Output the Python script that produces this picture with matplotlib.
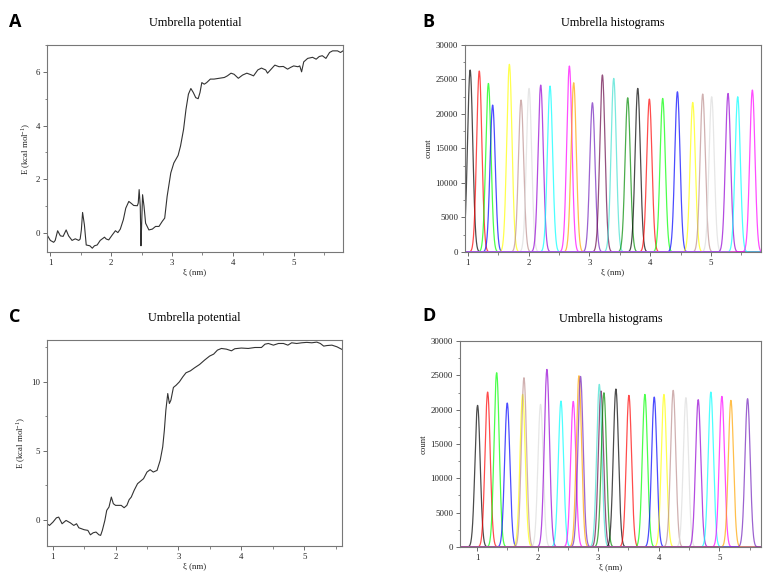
import numpy as np
import matplotlib
matplotlib.use("Agg")
import matplotlib.pyplot as plt
from matplotlib.ticker import MultipleLocator

plt.rcParams['font.family'] = ['Liberation Serif', 'DejaVu Serif']
plt.rcParams['mathtext.fontset'] = 'custom'
plt.rcParams['mathtext.rm'] = 'Liberation Serif'

# --- DATA ---

# Panel A: umbrella potential (PMF)
xi_a = [0.945, 1.0, 1.055, 1.08, 1.12, 1.165, 1.21, 1.26, 1.30, 1.357, 1.41, 1.467, 1.49,
        1.51, 1.53, 1.56, 1.59, 1.65, 1.69, 1.725, 1.77, 1.82, 1.89, 1.92, 1.96, 2.02,
        2.07, 2.11, 2.15, 2.2, 2.24, 2.29, 2.335, 2.37, 2.43, 2.445, 2.46, 2.478, 2.49,
        2.5, 2.516, 2.54, 2.566, 2.62, 2.676, 2.73, 2.786, 2.84, 2.88, 2.92, 2.98, 3.03,
        3.1, 3.14, 3.19, 3.23, 3.27, 3.31, 3.35, 3.39, 3.43, 3.46, 3.49, 3.53, 3.57, 3.63,
        3.69, 3.775, 3.86, 3.91, 3.97, 4.02, 4.09, 4.16, 4.23, 4.30, 4.34, 4.41, 4.47,
        4.54, 4.57, 4.63, 4.69, 4.76, 4.83, 4.9, 4.945, 5.0, 5.07, 5.10, 5.13, 5.165,
        5.23, 5.31, 5.37, 5.42, 5.47, 5.53, 5.59, 5.64, 5.72, 5.77, 5.81]
e_a = [-0.06, -0.27, -0.34, -0.27, 0.09, -0.1, -0.12, 0.12, -0.1, -0.27, -0.21, -0.27,
       -0.22, 0.12, 0.77, 0.31, -0.44, -0.47, -0.56, -0.47, -0.44, -0.27, -0.15, -0.22,
       -0.25, -0.06, 0.09, 0.02, 0.15, 0.5, 0.93, 1.18, 1.1, 1.03, 1.02, 1.12, 1.62, 1.0,
       -0.47, 0.25, 1.43, 1.0, 0.37, 0.12, 0.15, 0.25, 0.25, 0.44, 0.56, 1.37, 2.24, 2.61,
       2.89, 3.24, 3.86, 4.61, 5.17, 5.38, 5.23, 5.04, 5.0, 5.23, 5.6, 5.54, 5.6, 5.73,
       5.73, 5.76, 5.79, 5.85, 5.95, 5.91, 5.76, 5.88, 5.95, 5.89, 5.85, 6.07, 6.14, 6.07,
       5.95, 6.1, 6.25, 6.19, 6.2, 6.1, 6.16, 6.22, 6.19, 6.22, 6.0, 6.37, 6.5, 6.54,
       6.47, 6.57, 6.6, 6.5, 6.72, 6.78, 6.78, 6.72, 6.78]

# Panel C: umbrella potential (PMF)
xi_c = [0.91, 0.95, 1.005, 1.06, 1.096, 1.15, 1.213, 1.28, 1.336, 1.38, 1.416, 1.5, 1.56,
        1.6, 1.645, 1.69, 1.736, 1.763, 1.79, 1.83, 1.86, 1.896, 1.933, 1.965, 2.0, 2.056,
        2.09, 2.136, 2.18, 2.216, 2.25, 2.296, 2.35, 2.40, 2.445, 2.5, 2.55, 2.6, 2.66,
        2.71, 2.75, 2.776, 2.8, 2.83, 2.856, 2.88, 2.92, 2.963, 3.016, 3.07, 3.12, 3.19,
        3.256, 3.336, 3.416, 3.496, 3.56, 3.62, 3.683, 3.763, 3.843, 3.896, 4.0, 4.11,
        4.216, 4.32, 4.376, 4.43, 4.51, 4.59, 4.67, 4.74, 4.8, 4.88, 4.96, 5.04, 5.12, 5.2,
        5.256, 5.31, 5.36, 5.44, 5.52, 5.6]
e_c = [-0.29, -0.41, -0.17, 0.14, 0.19, -0.29, -0.05, -0.22, -0.41, -0.29, -0.58, -0.72,
       -0.77, -1.09, -0.94, -0.89, -1.09, -1.13, -0.77, -0.05, 0.68, 0.92, 1.64, 1.16,
       1.04, 1.04, 1.04, 0.87, 1.04, 1.45, 1.64, 2.13, 2.61, 2.8, 2.97, 3.45, 3.62, 3.45,
       3.57, 4.3, 5.27, 6.47, 7.92, 9.13, 8.41, 8.65, 9.57, 9.73, 9.98, 10.34, 10.63,
       10.77, 10.99, 11.23, 11.55, 11.84, 11.98, 12.27, 12.39, 12.34, 12.22, 12.37,
       12.42, 12.39, 12.46, 12.46, 12.7, 12.75, 12.63, 12.75, 12.75, 12.63, 12.8, 12.75,
       12.8, 12.83, 12.8, 12.85, 12.75, 12.56, 12.6, 12.63, 12.51, 12.32]

# Panel B: umbrella windows (centre in nm, peak count)
centers_b = [1.04, 1.19, 1.34, 1.41, 1.685, 1.877, 2.008, 2.2, 2.353, 2.671, 2.742, 3.05,
             3.214, 3.4, 3.63, 3.795, 3.986, 4.205, 4.447, 4.699, 4.863, 5.01, 5.279,
             5.438, 5.679]
peaks_b = [26370, 26230, 24430, 21290, 27190, 22020, 23710, 24190, 24050, 26950, 24530,
           21630, 25650, 25160, 22350, 23710, 22160, 22260, 23220, 21680, 22890, 22500,
           22980, 22500, 23470]

# Panel D: umbrella windows (centre in nm, peak count)
centers_d = [1.01, 1.176, 1.325, 1.50, 1.754, 1.776, 2.05, 2.155, 2.387, 2.59, 2.684, 2.71,
             3.047, 3.02, 3.096, 3.294, 3.509, 3.773, 3.927, 4.087, 4.24, 4.45, 4.653,
             4.862, 5.044, 5.193, 5.468]
peaks_d = [20630, 22570, 25390, 20970, 22230, 24660, 20780, 25870, 21260, 21210, 24950,
           24850, 22720, 23690, 22470, 23010, 22090, 22230, 21840, 22230, 22820, 21750,
           21460, 22570, 21940, 21360, 21600]

window_sigma = 0.043

# xmgrace default colour cycle
grace_colors = ['black', '#ff0000', '#00ff00', '#0000ff', '#ffff00', '#bc8f8f', '#dcdcdc',
                '#9400d3', '#00ffff', '#ff00ff', '#ffa500', '#7221bc', '#670748',
                '#40e0d0', '#008b00']

# --- FIGURE ---

fig = plt.figure(figsize=(7.64, 5.77), dpi=100)
ax_a = fig.add_axes([0.0615, 0.5633, 0.3874, 0.3588])
ax_b = fig.add_axes([0.6086, 0.5633, 0.3874, 0.3588])
ax_c = fig.add_axes([0.0615, 0.0537, 0.3861, 0.3570])
ax_d = fig.add_axes([0.6021, 0.0520, 0.3940, 0.3570])

tick_fs = 6.3
title_fs = 8.8


def style_axes(ax):
    for s in ax.spines.values():
        s.set_color('#777777')
        s.set_linewidth(0.8)
    ax.tick_params(axis='both', which='major', direction='out', length=3, width=0.6,
                   colors='#555555', labelsize=tick_fs, labelcolor='#222222', pad=2)
    ax.tick_params(axis='both', which='minor', direction='out', length=1.8, width=0.5,
                   colors='#555555')
    ax.xaxis.set_major_locator(MultipleLocator(1))
    ax.xaxis.set_minor_locator(MultipleLocator(0.5))
    ax.set_xlabel('ξ (nm)', fontsize=tick_fs, labelpad=1, color='#222222')


def pmf_panel(ax, xi, e, ylim, major, minor):
    ax.plot(xi, e, color='#333333', linewidth=0.8)
    style_axes(ax)
    ax.set_xlim(xi[0], xi[-1])
    ax.set_ylim(*ylim)
    ax.yaxis.set_major_locator(MultipleLocator(major))
    ax.yaxis.set_minor_locator(MultipleLocator(minor))
    ax.set_ylabel('E (kcal mol$^{-1}$)', fontsize=tick_fs, labelpad=2, color='#222222')
    ax.set_title('Umbrella potential', fontsize=title_fs, pad=14)


def hist_panel(ax, centers, peaks, xlim):
    x = np.linspace(xlim[0], xlim[1], 1500)
    for i, (c, h) in enumerate(zip(centers, peaks)):
        y = h * np.exp(-0.5 * ((x - c) / window_sigma) ** 2)
        ax.plot(x, y, color=grace_colors[i % len(grace_colors)], linewidth=0.9, alpha=0.7)
    style_axes(ax)
    ax.set_xlim(*xlim)
    ax.set_ylim(0, 30000)
    ax.yaxis.set_major_locator(MultipleLocator(5000))
    ax.yaxis.set_minor_locator(MultipleLocator(2500))
    ax.set_ylabel('count', fontsize=tick_fs, labelpad=2, color='#222222')
    ax.set_title('Umbrella histograms', fontsize=title_fs, pad=14)


pmf_panel(ax_a, xi_a, e_a, (-0.7, 7.0), 2, 1)
hist_panel(ax_b, centers_b, peaks_b, (0.955, 5.82))
pmf_panel(ax_c, xi_c, e_c, (-1.9, 13.0), 5, 2.5)
hist_panel(ax_d, centers_d, peaks_d, (0.72, 5.69))

for label, (px, py) in zip('ABCD', [(9, 22), (422, 22), (9, 317), (422, 316)]):
    fig.text(px / 764, 1 - py / 577, label, fontsize=13, fontweight='bold',
             family=['Open Sans', 'DejaVu Sans'], va='center', ha='left')

fig.savefig('out.png', dpi=100)
